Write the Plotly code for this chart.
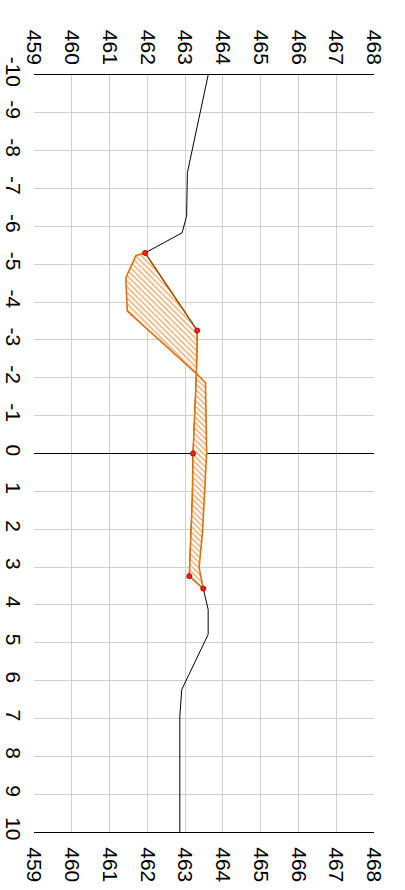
import plotly.graph_objects as go

# ---- data (distance along section, elevation) ----
ground_dist = [-10, -7.42, -6.27, -5.83, -5.30, -3.25, -2.11, 0, 1.22, 2.09, 3.24, 3.57, 4.12, 4.78, 6.24, 6.94, 10]
ground_elev = [463.61, 463.06, 463.04, 462.92, 461.94, 463.32, 463.30, 463.21, 463.19, 463.15, 463.11, 463.48, 463.61, 463.61, 462.91, 462.86, 462.86]

design_dist = [-5.30, -5.23, -4.64, -3.76, -2.11, -1.87, 0, 1.22, 2.09, 3.01, 3.57]
design_elev = [461.94, 461.70, 461.43, 461.47, 463.30, 463.54, 463.57, 463.51, 463.46, 463.37, 463.48]

point_dist = [-5.30, -3.25, 0, 3.24, 3.57]
point_elev = [461.94, 463.32, 463.21, 463.11, 463.48]

elev_ticks = [459, 460, 461, 462, 463, 464, 465, 466, 467, 468]
elev_labels = ["459", "460", "461", "462", "463", "464", "465", "466", "467", "468"]
dist_ticks = list(range(-10, 11))
dist_labels = [str(v) for v in dist_ticks]

ORANGE = "#d9730d"
FONT = dict(family="Liberation Sans, Arial, sans-serif", size=21, color="#000")

fig = go.Figure()

# ground line
fig.add_trace(go.Scatter(x=ground_elev, y=ground_dist, mode="lines",
                         line=dict(color="black", width=1), showlegend=False, hoverinfo="skip"))

# hatched areas between ground and design line
def area(g0, g1, d0, d1):
    xs = ground_elev[g0:g1 + 1] + design_elev[d0:d1 + 1][::-1]
    ys = ground_dist[g0:g1 + 1] + design_dist[d0:d1 + 1][::-1]
    return xs + [xs[0]], ys + [ys[0]]

for (g0, g1, d0, d1) in [(4, 6, 0, 4), (6, 11, 4, 10)]:
    xs, ys = area(g0, g1, d0, d1)
    fig.add_trace(go.Scatter(x=xs, y=ys, mode="lines", fill="toself",
                             fillcolor="rgba(255,255,255,0)",
                             fillpattern=dict(shape="\\", fgcolor="#d06a00", bgcolor="white",
                                              size=4, solidity=0.4),
                             line=dict(color=ORANGE, width=1.6),
                             showlegend=False, hoverinfo="skip"))

# ground segment that shows above the first area
fig.add_trace(go.Scatter(x=ground_elev[4:6], y=ground_dist[4:6], mode="lines",
                         line=dict(color="rgba(60,30,0,0.6)", width=1), showlegend=False, hoverinfo="skip"))

# survey points
fig.add_trace(go.Scatter(x=point_elev, y=point_dist, mode="markers",
                         marker=dict(color="#ff2020", size=5, line=dict(color="#c00000", width=1)),
                         showlegend=False, hoverinfo="skip"))

# invisible trace for top axis
fig.add_trace(go.Scatter(x=[elev_ticks[0]], y=[dist_ticks[0]], xaxis="x2", mode="markers",
                         marker=dict(opacity=0), showlegend=False, hoverinfo="skip"))

xcommon = dict(range=[elev_ticks[0], elev_ticks[-1]], tickmode="array", tickvals=elev_ticks,
               ticktext=elev_labels, tickangle=90, tickfont=FONT, automargin=False)

fig.update_layout(
    width=405, height=890,
    margin=dict(l=34, r=31, t=75, b=58),
    paper_bgcolor="white", plot_bgcolor="white",
    xaxis=dict(**xcommon, side="bottom", showgrid=True, gridcolor="#cfcfcf", gridwidth=1,
               showline=True, linecolor="black", linewidth=1, mirror=True,
               zeroline=False, ticks="", ticklabelstandoff=10),
    xaxis2=dict(**xcommon, side="top", overlaying="x", showgrid=False, showline=False,
                zeroline=False, ticks="", ticklabelstandoff=6),
    yaxis=dict(range=[dist_ticks[-1], dist_ticks[0]], tickmode="array", tickvals=dist_ticks,
               ticktext=dist_labels, tickangle=90, tickfont=FONT, automargin=False,
               ticklabelstandoff=6,
               showgrid=True, gridcolor="#cfcfcf", gridwidth=1,
               zeroline=True, zerolinecolor="black", zerolinewidth=1,
               showline=False, ticks=""),
    showlegend=False,
)

fig.write_html("out.html", config={"displayModeBar": False},
               post_script="document.body.style.margin='0';")
